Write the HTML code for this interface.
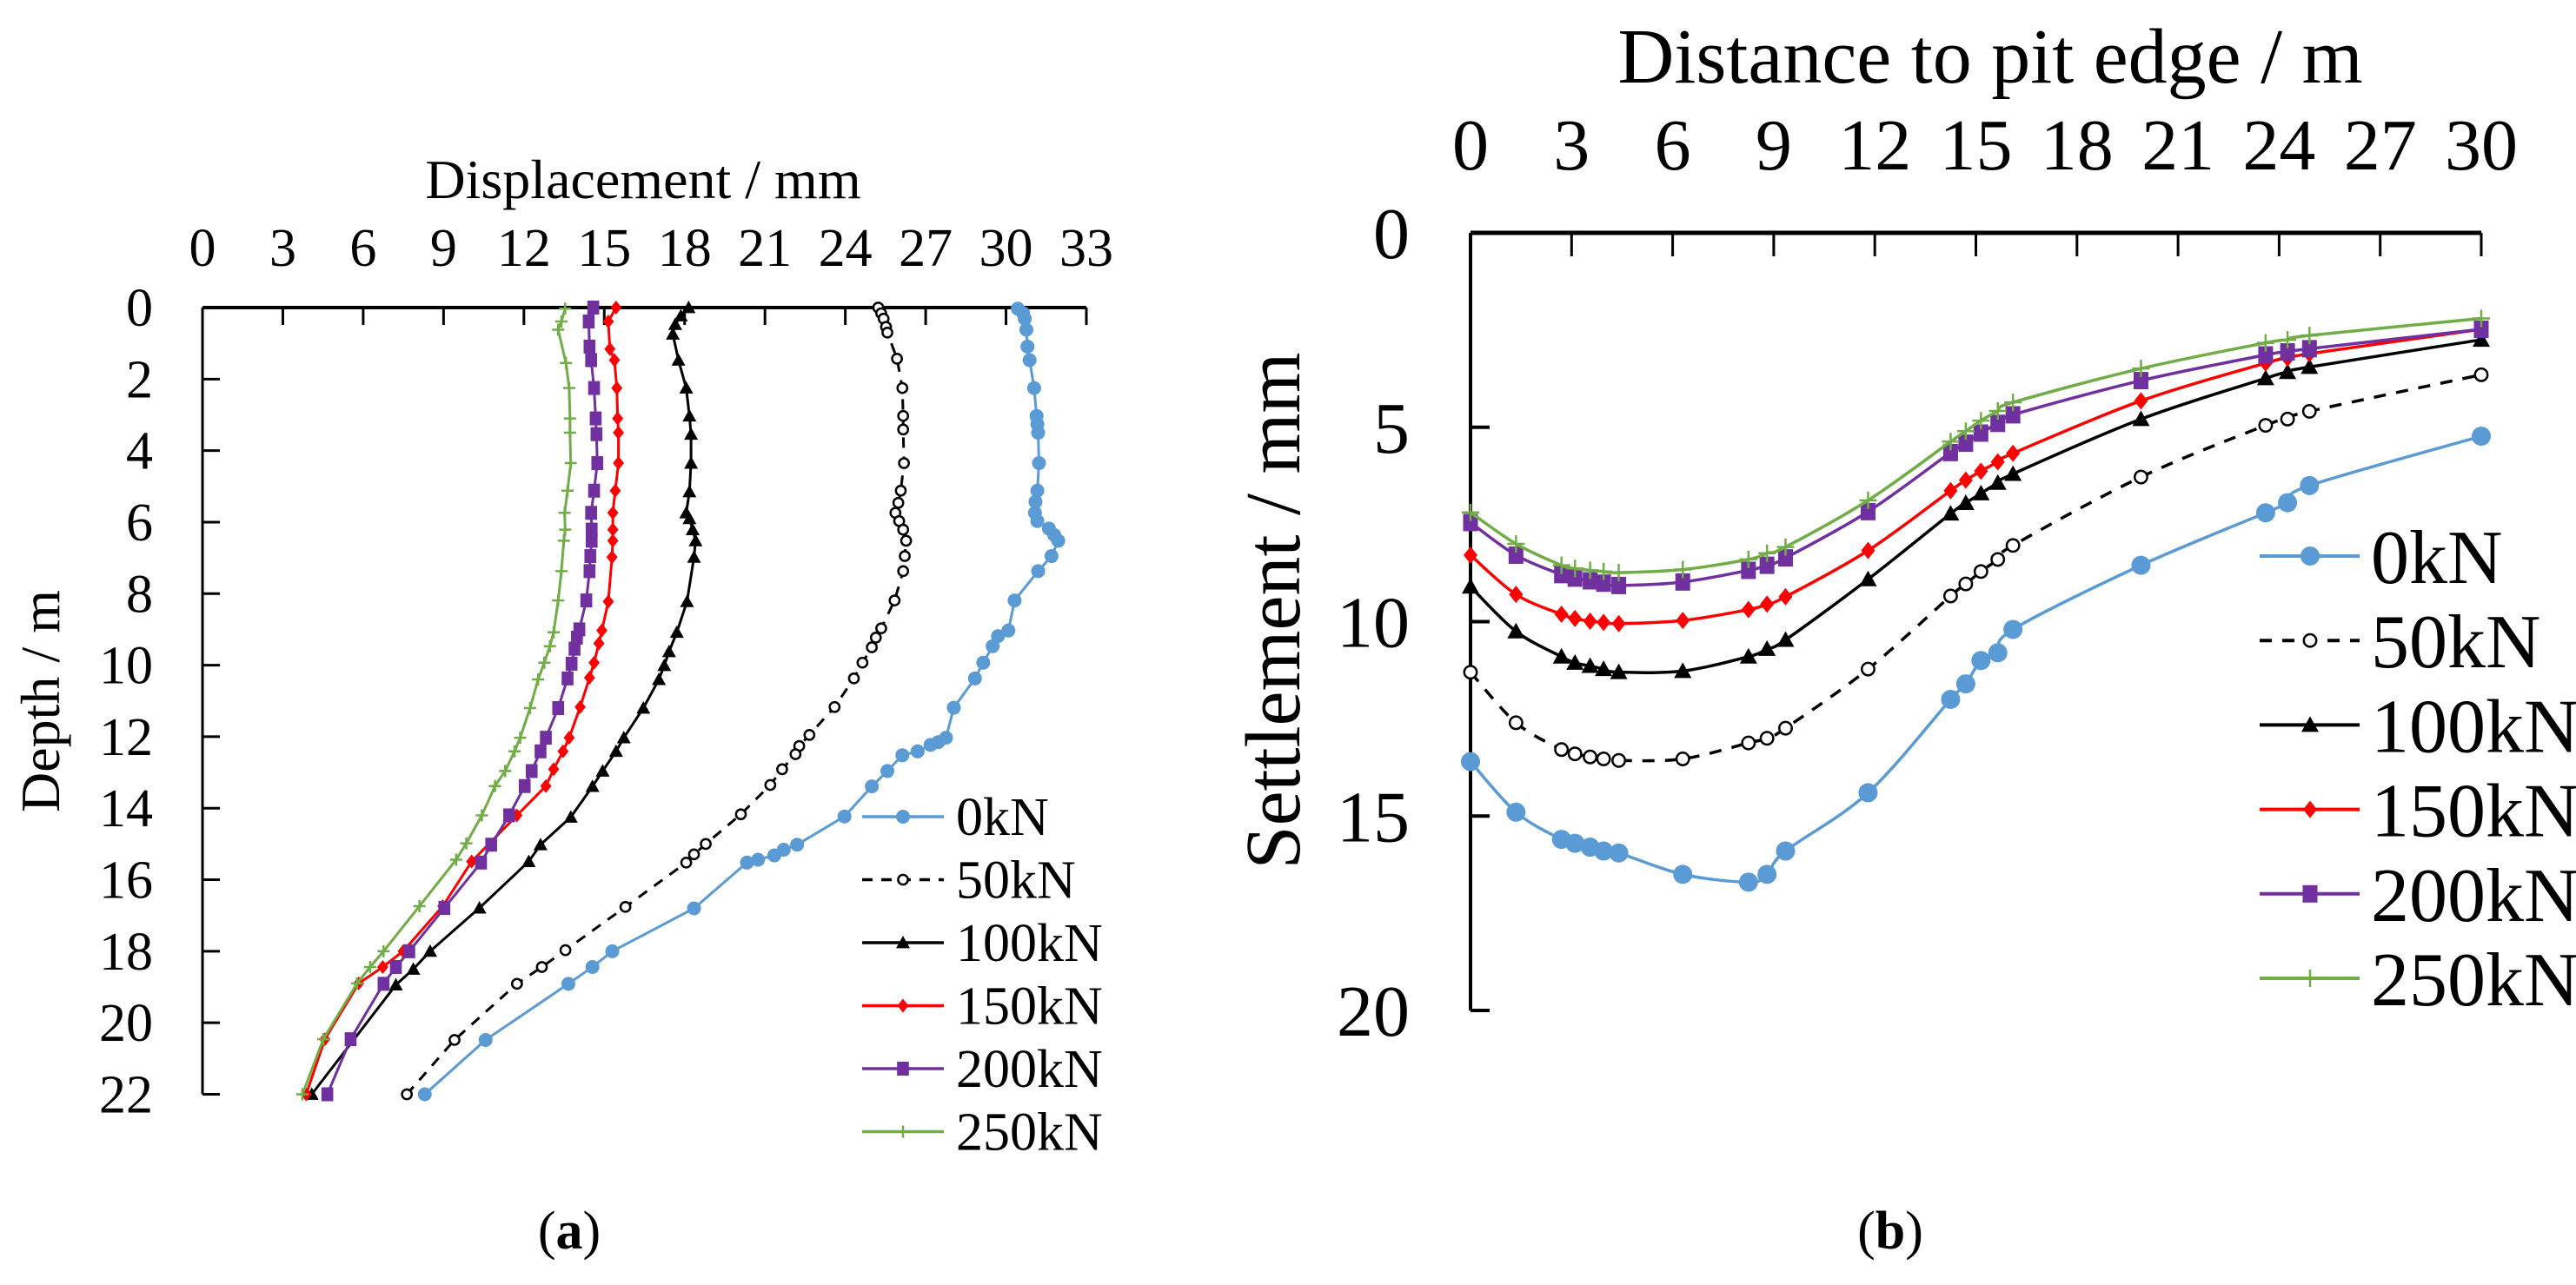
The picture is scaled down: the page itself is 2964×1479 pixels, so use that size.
<!DOCTYPE html>
<html><head><meta charset="utf-8"><style>
html,body{margin:0;padding:0;background:#fff;}
svg{display:block;}
svg text{font-family:"Liberation Serif","Times New Roman",serif;}
</style></head><body>
<svg id="fig" width="2964" height="1479" viewBox="0 0 2964 1479" xmlns="http://www.w3.org/2000/svg" font-family="'Liberation Serif', 'Times New Roman', serif">
<rect width="2964" height="1479" fill="#fff"/>
<g id="chartA"></g>
<g id="chartB"></g>
<text x="655" y="1437" font-size="62" text-anchor="middle">(<tspan font-weight="bold">a</tspan>)</text>
<text x="2175" y="1437" font-size="62" text-anchor="middle">(<tspan font-weight="bold">b</tspan>)</text>
</svg>
<script>
// ---------- Chart A data (displacement mm, depth m) ----------
const seriesNames = ["0kN","50kN","100kN","150kN","200kN","250kN"];
const xTicksA = [0,3,6,9,12,15,18,21,24,27,30,33];
const yTicksA = [0,2,4,6,8,10,12,14,16,18,20,22];
const dispA0 = [30.44,30.64,30.7,30.76,30.8,30.88,31.05,31.14,31.17,31.2,31.23,31.17,31.1,31.08,31.17,31.6,31.8,31.95,31.7,31.2,30.32,30.09,29.7,29.5,29.15,28.84,28.05,27.76,27.47,27.18,26.7,26.13,25.57,24.99,23.97,22.2,21.7,21.35,20.74,20.33,18.35,15.3,14.56,13.66,10.57,8.3];
const depthA0 = [0.03,0.16,0.31,0.62,1.09,1.47,2.25,3.03,3.26,3.5,4.35,5.12,5.43,5.74,5.97,6.18,6.36,6.52,6.95,7.37,8.19,9.03,9.19,9.47,9.93,10.37,11.19,12.03,12.15,12.23,12.41,12.52,12.96,13.39,14.23,15.02,15.16,15.32,15.44,15.52,16.8,18.0,18.44,18.91,20.48,22.0];
const dispA1 = [25.23,25.34,25.43,25.52,25.57,25.93,26.13,26.16,26.16,26.19,26.07,25.98,25.87,26.01,26.16,26.27,26.22,26.16,25.84,25.34,25.14,24.99,24.64,24.32,23.6,22.66,22.28,22.14,21.64,21.2,20.1,18.79,18.35,18.06,15.79,13.55,12.67,11.74,9.41,7.63];
const depthA1 = [0,0.16,0.31,0.54,0.7,1.43,2.25,3.03,3.41,4.35,5.12,5.46,5.74,5.97,6.21,6.52,6.95,7.37,8.19,8.97,9.23,9.5,9.93,10.37,11.17,11.95,12.26,12.49,12.91,13.35,14.17,15.0,15.29,15.52,16.76,17.97,18.44,18.91,20.48,22.0];
const dispA2 = [18.15,17.86,17.65,17.56,17.77,18.06,18.18,18.24,18.24,18.18,18.06,18.18,18.3,18.41,18.35,18.09,17.71,17.42,17.24,17.04,16.46,15.73,15.44,14.94,14.56,13.75,12.62,12.18,10.34,8.5,7.87,7.22,4.08];
const depthA2 = [0,0.23,0.47,0.74,1.47,2.25,3.03,3.54,4.35,5.15,5.74,5.9,6.21,6.52,6.98,8.22,9.08,9.62,10.01,10.4,11.2,12.03,12.41,12.96,13.39,14.25,15.02,15.49,16.79,18.0,18.5,18.94,22.0];
const dispA3 = [15.44,15.15,15.21,15.38,15.47,15.5,15.53,15.53,15.41,15.32,15.32,15.32,15.29,15.15,14.91,14.8,14.62,14.45,14.1,13.69,13.46,13.11,12.82,11.74,10.05,8.97,7.49,6.73,5.83,4.57,3.87];
const depthA3 = [0,0.39,1.16,1.47,2.25,3.1,3.5,4.35,5.12,5.74,6.21,6.52,6.98,8.22,9.03,9.39,9.93,10.35,11.17,12.03,12.41,12.91,13.38,14.2,15.49,16.74,18.0,18.44,18.9,20.46,22.0];
const dispA4 = [14.59,14.42,14.45,14.51,14.62,14.68,14.71,14.74,14.62,14.51,14.53,14.53,14.48,14.45,14.33,14.07,13.98,13.89,13.78,13.63,13.28,12.82,12.62,12.29,12.03,11.45,10.78,10.4,9.03,7.72,7.22,6.76,5.53,4.66];
const depthA4 = [0,0.39,1.09,1.47,2.25,3.1,3.54,4.35,5.12,5.74,6.21,6.52,6.95,7.37,8.19,9.0,9.23,9.54,9.96,10.37,11.2,12.03,12.41,12.96,13.38,14.2,15.02,15.52,16.79,18.0,18.44,18.91,20.46,22.0];
const dispA5 = [13.54,13.4,13.28,13.57,13.69,13.72,13.72,13.75,13.63,13.52,13.54,13.49,13.4,13.28,13.11,12.97,12.76,12.53,12.23,11.86,11.65,11.3,10.92,10.43,9.85,9.47,8.1,6.76,6.26,5.77,4.51,3.73];
const depthA5 = [0.03,0.39,0.62,1.55,2.25,3.1,3.5,4.35,5.12,5.74,6.21,6.52,7.37,8.19,9.08,9.47,9.93,10.4,11.2,12.03,12.41,12.96,13.38,14.2,14.98,15.44,16.74,18.0,18.44,18.9,20.46,22.0];

// ---------- Chart B data (distance m, settlement mm) ----------
const xTicksB = [0,3,6,9,12,15,18,21,24,27,30];
const yTicksB = [0,5,10,15,20];
const distB = [0,1.35,2.7,3.1,3.55,3.95,4.4,6.3,8.25,8.8,9.35,11.8,14.25,14.7,15.15,15.65,16.1,19.9,23.6,24.25,24.9,30];
const setB0 = [13.6,14.9,15.6,15.7,15.8,15.9,15.95,16.5,16.7,16.5,15.9,14.4,12.0,11.6,11.0,10.8,10.2,8.55,7.2,6.94,6.5,5.23];
const setB1 = [11.3,12.6,13.29,13.4,13.48,13.53,13.57,13.53,13.12,13.0,12.74,11.22,9.34,9.03,8.71,8.4,8.04,6.28,4.95,4.79,4.59,3.65];
const setB2 = [9.1,10.25,10.9,11.06,11.14,11.22,11.3,11.27,10.9,10.7,10.47,8.91,7.22,6.95,6.7,6.43,6.2,4.79,3.74,3.58,3.45,2.75];
const setB3 = [8.29,9.3,9.81,9.92,9.99,10.02,10.05,9.97,9.69,9.55,9.36,8.17,6.63,6.36,6.13,5.89,5.67,4.32,3.35,3.22,3.11,2.48];
const setB4 = [7.45,8.29,8.79,8.88,8.95,9.01,9.07,8.98,8.68,8.55,8.36,7.17,5.65,5.41,5.15,4.9,4.68,3.8,3.14,3.06,2.98,2.48];
const setB5 = [7.19,8.0,8.55,8.63,8.68,8.71,8.74,8.66,8.4,8.24,8.08,6.88,5.37,5.1,4.83,4.58,4.36,3.49,2.83,2.75,2.64,2.2];

const NS="http://www.w3.org/2000/svg";
const colors=["#5B9BD5","#000","#000","#FF0000","#7030A0","#70AD47"];
const markers=["circle","ocircle","triangle","diamond","square","plus"];
function mk(tag,attrs,parent){const e=document.createElementNS(NS,tag);for(const k in attrs)e.setAttribute(k,attrs[k]);parent.appendChild(e);return e;}
function marker(g,type,x,y,s,color,name){
  let e;
  if(type==="circle"){e=mk("circle",{cx:x,cy:y,r:s,fill:color},g);}
  else if(type==="ocircle"){e=mk("circle",{cx:x,cy:y,r:s*0.8,fill:"#fff",stroke:"#000","stroke-width":2.5},g);}
  else if(type==="triangle"){e=mk("polygon",{points:`${x},${y-s} ${x-s},${y+s*0.8} ${x+s},${y+s*0.8}`,fill:color},g);}
  else if(type==="diamond"){e=mk("polygon",{points:`${x},${y-s} ${x+s*0.8},${y} ${x},${y+s} ${x-s*0.8},${y}`,fill:color},g);}
  else if(type==="square"){e=mk("rect",{x:x-s*0.85,y:y-s,width:s*1.7,height:s*2,fill:color},g);}
  else {e=mk("path",{d:`M${x-s} ${y}H${x+s}M${x} ${y-s}V${y+s}`,stroke:color,"stroke-width":2.5,fill:"none"},g);}
  
  
}
function smoothPath(p){
  let d=`M${p[0][0]},${p[0][1]}`;
  for(let i=0;i<p.length-1;i++){
    const p0=p[i-1]||p[i],p1=p[i],p2=p[i+1],p3=p[i+2]||p2;
    const c1x=p1[0]+(p2[0]-p0[0])/6,c1y=p1[1]+(p2[1]-p0[1])/6;
    const c2x=p2[0]-(p3[0]-p1[0])/6,c2y=p2[1]-(p3[1]-p1[1])/6;
    d+=` C${c1x},${c1y} ${c2x},${c2y} ${p2[0]},${p2[1]}`;
  }
  return d;
}

// ---------- Chart A ----------
(function(){
  const g=document.getElementById("chartA");
  const X0=233,X1=1250,Y0=354,Y1=1259.5;
  const sx=v=>X0+(v-0)/(33-0)*(X1-X0);
  const sy=v=>Y0+(v-0)/(22-0)*(Y1-Y0);
  let t=mk("text",{x:740,y:228,"font-size":64,"text-anchor":"middle"},g);t.textContent="Displacement / mm";
  
  t=mk("text",{x:0,y:0,"font-size":64,"text-anchor":"middle",transform:"translate(68,807) rotate(-90)"},g);t.textContent="Depth / m";
  
  xTicksA.forEach(v=>{
    const l=mk("line",{x1:sx(v),x2:sx(v),y1:Y0,y2:Y0+20,stroke:"#000","stroke-width":3},g);
    
    const tt=mk("text",{x:sx(v),y:306,"font-size":62,"text-anchor":"middle"},g);tt.textContent=v;
    
  });
  yTicksA.forEach(v=>{
    const l=mk("line",{x1:X0,x2:X0+20,y1:sy(v),y2:sy(v),stroke:"#000","stroke-width":3},g);
    
    const tt=mk("text",{x:176,y:sy(v)+21,"font-size":62,"text-anchor":"end"},g);tt.textContent=v;
    
  });
  let a=mk("line",{x1:X0,x2:X1,y1:Y0,y2:Y0,stroke:"#000","stroke-width":4},g);
  
  a=mk("line",{x1:X0,x2:X0,y1:Y0,y2:Y1,stroke:"#000","stroke-width":3},g);
  
  const xs=[dispA0,dispA1,dispA2,dispA3,dispA4,dispA5],ys=[depthA0,depthA1,depthA2,depthA3,depthA4,depthA5];
  const sizes=[8,7,8,8,8,7];
  for(let s=0;s<6;s++){
    const sg=mk("g",{},g);
    
    const pts=xs[s].map((v,i)=>[sx(v),sy(ys[s][i])]);
    const pl=mk("polyline",{points:pts.map(p=>p.join(",")).join(" "),fill:"none",stroke:colors[s],"stroke-width":3,"stroke-dasharray":s===1?"12,10":"none"},sg);
    
    pts.forEach(p=>marker(sg,markers[s],p[0],p[1],sizes[s],colors[s],'point-'+seriesNames[s]));
  }
  const lg=mk("g",{},g);
  for(let s=0;s<6;s++){
    const y=940+s*72.5;
    const le=mk("g",{},lg);
    mk("line",{x1:992,x2:1086,y1:y,y2:y,stroke:colors[s],"stroke-width":3.5,"stroke-dasharray":s===1?"12,10":"none"},le);
    marker(le,markers[s],1039,y,sizes[s],colors[s],'legend-marker');
    const tt=mk("text",{x:1100,y:y+21,"font-size":62},le);tt.textContent=seriesNames[s];
    
  }
})();

// ---------- Chart B ----------
(function(){
  const g=document.getElementById("chartB");
  const X0=1692,X1=2855,Y0=268,Y1=1163;
  const sx=v=>X0+(v-0)/(30-0)*(X1-X0);
  const sy=v=>Y0+(v-0)/(20-0)*(Y1-Y0);
  let t=mk("text",{x:2290,y:95,"font-size":90,"text-anchor":"middle"},g);t.textContent="Distance to pit edge / m";
  
  t=mk("text",{x:0,y:0,"font-size":90,"text-anchor":"middle",transform:"translate(1495,703) rotate(-90)"},g);t.textContent="Settlement / mm";
  
  xTicksB.forEach(v=>{
    const l=mk("line",{x1:sx(v),x2:sx(v),y1:Y0,y2:Y0+27,stroke:"#000","stroke-width":3},g);
    
    const tt=mk("text",{x:sx(v),y:195,"font-size":84,"text-anchor":"middle"},g);tt.textContent=v;
    
  });
  yTicksB.forEach(v=>{
    const l=mk("line",{x1:X0,x2:X0+22,y1:sy(v),y2:sy(v),stroke:"#000","stroke-width":4},g);
    
    const tt=mk("text",{x:1622,y:sy(v)+29,"font-size":84,"text-anchor":"end"},g);tt.textContent=v;
    
  });
  let a=mk("line",{x1:X0,x2:X1,y1:Y0,y2:Y0,stroke:"#000","stroke-width":5},g);
  
  a=mk("line",{x1:X0,x2:X0,y1:Y0,y2:Y1,stroke:"#000","stroke-width":4},g);
  
  const ys=[setB0,setB1,setB2,setB3,setB4,setB5];
  const sizes=[11,9,10,10,10,10];
  for(let s=0;s<6;s++){
    const sg=mk("g",{},g);
    
    const pts=distB.map((v,i)=>[sx(v),sy(ys[s][i])]);
    const pl=mk("path",{d:smoothPath(pts),fill:"none",stroke:colors[s],"stroke-width":3.5,"stroke-dasharray":s===1?"14,12":"none"},sg);
    
    pts.forEach(p=>marker(sg,markers[s],p[0],p[1],sizes[s],colors[s],'point-'+seriesNames[s]));
  }
  const lg=mk("g",{},g);
  for(let s=0;s<6;s++){
    const y=640+s*97.2;
    const le=mk("g",{},lg);
    mk("line",{x1:2600,x2:2715,y1:y,y2:y,stroke:colors[s],"stroke-width":4,"stroke-dasharray":s===1?"14,12":"none"},le);
    marker(le,markers[s],2658,y,sizes[s],colors[s],'legend-marker');
    const tt=mk("text",{x:2728,y:y+31,"font-size":88},le);tt.textContent=seriesNames[s];
    
  }
})();
</script>
</body></html>
